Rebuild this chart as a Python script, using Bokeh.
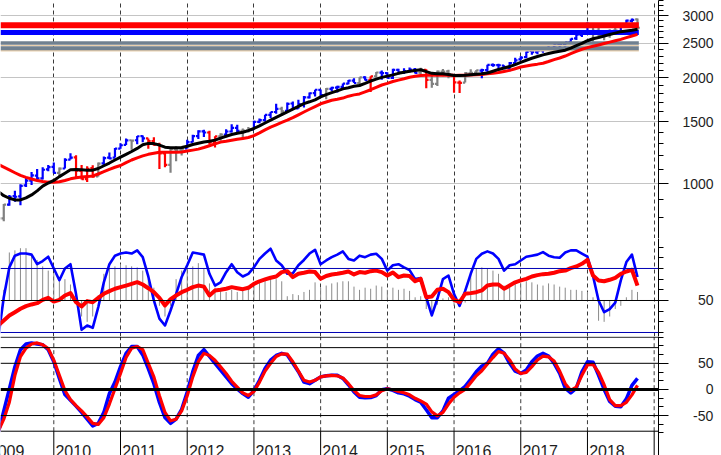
from bokeh.plotting import figure
from bokeh.layouts import column
from bokeh.models import Range1d, FixedTicker, Span, ColumnDataSource
from bokeh.embed import file_html
from bokeh.resources import INLINE
from bokeh.core.properties import value

FONT = "Liberation Sans"

# ---------------- data (monthly, first bar = March 2009) ----------------
first_year, first_month = 2009, 3

bar_open = [730, 798, 873, 923, 921, 990, 1020, 1055, 1036, 1099,
            1117, 1074, 1105, 1171, 1189, 1087, 1031, 1108, 1050, 1143, 1186, 1187,
            1258, 1289, 1329, 1329, 1365, 1345, 1321, 1293, 1219, 1131, 1251, 1247,
            1259, 1312, 1366, 1408, 1398, 1310, 1362, 1379, 1407, 1441, 1412, 1416,
            1426, 1498, 1515, 1569, 1598, 1632, 1610, 1689, 1636, 1682, 1759, 1807,
            1846, 1783, 1858, 1874, 1884, 1924, 1962, 1930, 2004, 1971, 2018, 2066,
            2059, 1997, 2105, 2068, 2087, 2109, 2067, 2104, 1970, 1920, 2081, 2083,
            2038, 1937, 1937, 2057, 2067, 2094, 2099, 2173, 2171, 2164, 2129, 2200,
            2252, 2286, 2380, 2362, 2389, 2416, 2431, 2477, 2474, 2521, 2583, 2645,
            2684, 2816, 2715, 2633, 2643, 2719, 2705, 2821, 2897, 2926]
bar_high = [833, 877, 930, 956, 997, 1039, 1080, 1101, 1114, 1130,
            1150, 1112, 1181, 1220, 1205, 1131, 1121, 1129, 1149, 1196, 1227, 1263,
            1303, 1344, 1332, 1366, 1371, 1345, 1356, 1307, 1229, 1257, 1278, 1269,
            1333, 1378, 1419, 1422, 1415, 1363, 1392, 1427, 1475, 1471, 1434, 1448,
            1510, 1531, 1570, 1598, 1687, 1654, 1699, 1710, 1730, 1775, 1814, 1849,
            1851, 1868, 1884, 1897, 1924, 1968, 1991, 2005, 2019, 2018, 2076, 2094,
            2072, 2120, 2118, 2126, 2135, 2130, 2133, 2113, 2021, 2094, 2116, 2104,
            2038, 1963, 2072, 2111, 2103, 2121, 2177, 2194, 2188, 2170, 2214, 2278,
            2301, 2372, 2401, 2398, 2419, 2454, 2484, 2491, 2519, 2583, 2658, 2695,
            2873, 2836, 2802, 2717, 2742, 2791, 2848, 2917, 2941, 2940]
bar_low = [667, 783, 866, 889, 869, 979, 992, 1020, 1029, 1086,
           1072, 1045, 1105, 1171, 1041, 1028, 1011, 1040, 1048, 1132, 1173, 1187,
           1258, 1289, 1249, 1295, 1312, 1258, 1283, 1102, 1114, 1075, 1159, 1202,
           1259, 1312, 1340, 1357, 1292, 1267, 1325, 1355, 1397, 1403, 1343, 1398,
           1426, 1485, 1501, 1536, 1581, 1560, 1605, 1627, 1633, 1646, 1746, 1768,
           1770, 1738, 1834, 1814, 1860, 1916, 1931, 1905, 1964, 1821, 2001, 1973,
           1988, 1981, 2040, 2048, 2068, 2056, 2044, 1867, 1872, 1894, 2019, 1993,
           1812, 1810, 1937, 2034, 2026, 1992, 2074, 2148, 2119, 2115, 2084, 2187,
           2245, 2272, 2322, 2329, 2353, 2406, 2408, 2417, 2447, 2520, 2557, 2606,
           2682, 2533, 2586, 2554, 2595, 2699, 2699, 2796, 2864, 2720]
bar_close = [798, 873, 919, 919, 987, 1021, 1057, 1036, 1096, 1115,
             1074, 1104, 1169, 1187, 1089, 1031, 1102, 1049, 1141, 1183, 1181, 1258,
             1286, 1327, 1326, 1364, 1345, 1321, 1292, 1219, 1131, 1253, 1247, 1258,
             1312, 1366, 1408, 1398, 1310, 1362, 1379, 1407, 1441, 1412, 1416, 1426,
             1498, 1515, 1569, 1598, 1631, 1606, 1686, 1633, 1682, 1757, 1806, 1848,
             1783, 1859, 1872, 1884, 1924, 1960, 1931, 2003, 1972, 2018, 2068, 2059,
             1995, 2105, 2068, 2086, 2107, 2063, 2104, 1972, 1920, 2079, 2080, 2044,
             1940, 1932, 2060, 2065, 2097, 2099, 2174, 2171, 2168, 2126, 2199, 2239,
             2279, 2364, 2363, 2384, 2412, 2423, 2470, 2472, 2519, 2575, 2648, 2674,
             2824, 2714, 2641, 2648, 2705, 2718, 2816, 2902, 2914, 2770]
# bar trend: b = up (blue), r = down (red), g = neutral (gray)
bar_trend = ("gg" "bbbbbbbbb" "g" "bb" "rrrr" "g" "bbbbb" "g" "bb" "rrrr" "ggg" "bbbb"
             "rr" "g" "bbb" "gg" "bbbbb" "g" "bbbbbbb" "g" "bbbbb" "g" "b" "r" "g"
             "bbbbbbb" "g" "r" "gggg" "rr" "ggg" "bbbbbbbbbbbbbbbbbbbb" "ggggg" "bbb" "g")

ma_fast = [950, 925, 910, 900, 900, 912, 930, 955, 985, 1005,
           1022, 1048, 1072, 1096, 1098, 1096, 1093, 1093, 1105, 1125, 1145, 1168,
           1190, 1212, 1235, 1260, 1290, 1302, 1300, 1288, 1270, 1266, 1265, 1268,
           1278, 1292, 1303, 1314, 1320, 1330, 1348, 1364, 1380, 1391, 1400, 1415,
           1435, 1460, 1487, 1515, 1543, 1570, 1600, 1628, 1658, 1688, 1708, 1730,
           1763, 1790, 1813, 1835, 1858, 1873, 1890, 1900, 1926, 1956, 1980, 2003,
           2020, 2036, 2057, 2072, 2084, 2095, 2105, 2080, 2057, 2051, 2051, 2040,
           2029, 2029, 2030, 2038, 2045, 2051, 2062, 2085, 2110, 2130, 2150, 2178,
           2210, 2240, 2270, 2295, 2320, 2340, 2360, 2375, 2392, 2426, 2463, 2500,
           2545, 2578, 2600, 2625, 2650, 2675, 2700, 2712, 2725, 2741]
ma_slow = [1135, 1115, 1095, 1075, 1056, 1043, 1032, 1022, 1015, 1011,
           1010, 1013, 1022, 1033, 1040, 1045, 1048, 1053, 1066, 1082, 1099, 1114,
           1127, 1148, 1168, 1185, 1200, 1212, 1220, 1228, 1229, 1229, 1229, 1231,
           1238, 1246, 1254, 1267, 1282, 1298, 1313, 1320, 1329, 1337, 1345, 1353,
           1370, 1395, 1422, 1448, 1470, 1493, 1515, 1540, 1569, 1598, 1627, 1656,
           1686, 1706, 1725, 1736, 1750, 1772, 1787, 1798, 1822, 1848, 1878, 1906,
           1927, 1950, 1968, 1985, 2004, 2017, 2029, 2030, 2030, 2030, 2030, 2030,
           2028, 2030, 2032, 2035, 2038, 2042, 2050, 2058, 2068, 2082, 2097, 2120,
           2143, 2158, 2173, 2184, 2197, 2222, 2250, 2273, 2303, 2338, 2373, 2407,
           2432, 2455, 2476, 2499, 2522, 2545, 2568, 2597, 2625, 2653]

# horizontal level bands in the price panel
band_levels = [2814, 2683, 2507, 2421]
band_colors = ["#ff0000", "#0000ff", "#708090", "#708090"]
band_widths = [6, 5, 3.5, 4]
shadow_levels = [2466, 2383]

# middle panel: fast oscillator (blue), RSI-like (red), histogram (gray)
mid_fast = [15, 53, 81, 92, 94, 94, 93, 84, 87, 91,
            80, 69, 80, 84, 56, 22.5, 26.6, 24.4, 43.8, 67, 84, 92,
            94, 95, 94, 97, 90.6, 72.5, 50, 33, 26.6, 40.6, 56, 72,
            83, 95, 94, 93, 75, 64, 67, 76.5, 84, 76.5, 72.5, 75,
            81, 89, 94, 98.5, 87.5, 83, 75, 75.6, 83, 88, 94, 97.5,
            84, 87.5, 90.6, 93, 96, 89, 87.5, 92, 90.6, 93, 93.8, 89,
            78, 83, 84, 81, 78.5, 70, 71, 53, 36, 51.6, 70, 73.4,
            56, 45, 59, 75, 89, 93.8, 96, 94, 89, 78, 83, 84,
            87.5, 91, 92, 93, 95.3, 92, 90.6, 90, 95, 97, 97, 94,
            91, 73, 50, 39, 42, 48, 68.8, 86, 93, 72]
mid_rsi = [26.6, 31.3, 35.9, 39, 42.2, 44.7, 46.3, 47.5, 50.6, 52.5,
           49, 50.6, 54.7, 56.9, 48.4, 44.4, 49.4, 48.4, 52.5, 56.3, 58.8, 61,
           62.5, 64, 65.6, 67.2, 65, 61.5, 57.8, 52.5, 45.3, 51.3, 54.7, 57.8,
           60, 62.5, 64, 63, 54.7, 59.4, 60, 61, 62.5, 61.5, 60.6, 61.9,
           65.6, 68, 69.7, 71.3, 72.5, 76.6, 77.5, 71.9, 75, 76, 77.2, 76.6,
           70.3, 73, 74.4, 75, 76, 77.2, 74.4, 76.6, 76, 77.5, 78, 76.6,
           73.4, 76.3, 71.9, 73.4, 73, 68, 70.3, 53, 53.8, 60, 61, 57.8,
           50.6, 48.4, 56.3, 56.9, 57.8, 59.4, 64, 65, 65, 61, 64, 67,
           68.8, 70.3, 72.5, 73.8, 74.7, 75, 76, 77.5, 78, 80.3, 81.9, 84.4,
           88, 73.4, 68.8, 68, 69.4, 71.3, 75, 77.2, 78.8, 64]
mid_hist = [45, 60, 95, 97, 99, 99, 93, 88, 82, 78,
            75, 72, 70, 65, 48, 35, 30, 35, 55, 75, 80, 82,
            84, 83, 82, 81, 78, 70, 62, 45, 35, 45, 70, 78,
            80, 82, 85, 80, 66, 62, 60, 58, 60, 58, 60, 62,
            65, 67, 69, 72, 70, 68, 54, 56, 55, 58, 60, 67,
            62, 64, 66, 67, 68, 68, 63, 60, 62, 61, 64, 63,
            60, 62, 60, 61, 59, 53, 54, 42, 40, 46, 52, 53,
            45, 46, 48, 75, 80, 81, 80, 78, 75, 64, 65, 67,
            66, 68, 67, 65, 64, 66, 65, 63, 62, 60, 60, 59,
            58, 53, 31, 30, 35, 42, 45, 53, 60, 58]

# bottom panel: cycle oscillator (blue) and its signal (red)
osc_main = [-83, -41, 1, 43.5, 76, 87, 89, 87, 85.6, 76,
            53, 21, -10, -21, -32, -44, -57, -70, -65, -44, -8, 14,
            43.5, 69, 82, 82, 66, 40, 11, -25, -54, -65, -57, -38,
            -5, 34, 65, 76, 63, 50, 37, 24, 11, 1, -8, -15,
            -2, 17.5, 40, 56, 65, 69, 66, 50, 34, 14, 11, 17.5,
            24, 26, 27, 27, 21, 9, -5, -15, -16, -15.6, -11.7, -0.6,
            1.3, -1.9, -6.5, -8.4, -13, -19.5, -24.6, -39, -54, -54, -41, -17,
            -9.7, -2.6, 5.8, 19.5, 33.7, 44.7, 50, 67.5, 77.8, 69.4, 50, 35,
            30.5, 37, 53, 64, 69, 64, 50, 30.5, 2.6, -6.5, 2.6, 33.7,
            53, 52, 27, 0, -23, -32, -33, -18, 7.8, 21]
osc_signal = [-80, -57, -24.6, 27, 63, 79, 87, 89, 85.6, 78,
              56, 27, -2, -19.5, -31, -41, -52.5, -65, -67, -54, -28, 1.3,
              30.5, 61, 79, 82, 76, 50, 24, -12, -44, -60, -57, -41,
              -12, 24, 53, 69, 65, 56, 43.5, 30.5, 15.6, 4.5, -6.5, -11.7,
              -4, 14, 35, 50, 63, 68, 67.5, 53, 35, 17.5, 14, 17.5,
              24, 26, 27, 26, 22, 11, -2, -11.7, -13.6, -13.6, -10.4, -2.6,
              1.3, -0.6, -3.9, -6.5, -10.4, -17, -22, -28, -43, -50.6, -44, -28,
              -15, -6.5, 0, 13, 26, 35.7, 48.6, 61, 72.6, 69.4, 56.4, 39,
              30.5, 32.4, 43.5, 56.4, 63.6, 62.3, 54.5, 35, 11, -2, 4.5, 27,
              46.7, 48, 32.4, 9, -19.5, -31, -31, -24.6, -10.4, 7.8]

year_lines = [2010, 2011, 2012, 2013, 2014, 2015, 2016, 2017, 2018, 2019]
year_labels = ["2009", "2010", "2011", "2012", "2013", "2014", "2015", "2016", "2017", "2018"]
price_ticks = [1000, 1500, 2000, 2500, 3000]
price_minor = [700, 800, 900, 1100, 1200, 1300, 1400, 1600, 1700, 1800, 1900,
               2100, 2200, 2300, 2400, 2600, 2700, 2800, 2900, 3100, 3200, 3300]

# ---------------- derived positions ----------------
n = len(bar_close)
dates = [first_year + (first_month - 1 + i) / 12.0 for i in range(n)]
trend_color = {"b": "#0000ff", "r": "#ff0000", "g": "#808080"}
colors = [trend_color[c] for c in bar_trend[:n]]
tick_w = 0.035  # half-width of open/close ticks in years (~2 px)

x_range = Range1d(2009.2009, 2019.065)
RIGHT = 63
FS = "\u2007"   # figure space (digit-wide) to right-align tick labels
TS = "\u2009"   # thin space


def style_axis(ax, ticks, minor, overrides=None):
    ax.ticker = FixedTicker(ticks=ticks, minor_ticks=minor)
    ax.axis_line_color = "black"
    ax.major_tick_line_color = "black"
    ax.minor_tick_line_color = "black"
    ax.major_tick_out = 10
    ax.major_tick_in = 0
    ax.minor_tick_out = 5
    ax.minor_tick_in = 0
    ax.major_label_standoff = 14
    ax.major_label_text_font = FONT
    ax.major_label_text_font_size = "14px"
    ax.major_label_text_color = "#1e1e1e"
    if overrides:
        ax.major_label_overrides = overrides


def base_fig(height, y_range, y_type="linear"):
    f = figure(width=721, height=height, x_range=x_range, y_range=y_range,
               y_axis_type=y_type, y_axis_location="right", x_axis_location=None,
               toolbar_location=None, output_backend="svg",
               min_border_left=0, min_border_right=RIGHT, min_border_top=0,
               min_border_bottom=0, outline_line_color=None,
               background_fill_color="white", border_fill_color="white")
    f.ygrid.grid_line_color = None
    f.xgrid.ticker = FixedTicker(ticks=year_lines)
    f.xgrid.grid_line_color = "#3a3a3a"
    f.xgrid.grid_line_dash = "4 3"
    f.xgrid.grid_line_width = 1
    return f


# ---------------- price panel ----------------
p1 = base_fig(238, Range1d(699.7, 3309), "log")
p1.ygrid.ticker = FixedTicker(ticks=price_ticks)
p1.ygrid.grid_line_color = "#c4c4c4"
p1.ygrid.grid_line_width = 1
style_axis(p1.yaxis[0], price_ticks, price_minor,
           {t: str(t) for t in price_ticks})

src = ColumnDataSource(dict(
    x=dates, xl=[d - tick_w for d in dates], xr=[d + tick_w for d in dates],
    o=bar_open, h=bar_high, l=bar_low, c=bar_close, col=colors))
p1.segment(x0="x", y0="l", x1="x", y1="h", line_color="col", line_width=2.2, source=src)
p1.segment(x0="xl", y0="o", x1="x", y1="o", line_color="col", line_width=2.2, source=src)
p1.segment(x0="x", y0="c", x1="xr", y1="c", line_color="col", line_width=2.2, source=src)

band_end = dates[-1] + 0.02
for lvl in shadow_levels:
    p1.segment(x0=[x_range.start], x1=[band_end], y0=[lvl], y1=[lvl],
               line_color="#e8cfae", line_width=1.5)
for lvl, col, w in zip(band_levels, band_colors, band_widths):
    p1.segment(x0=[x_range.start], x1=[band_end], y0=[lvl], y1=[lvl],
               line_color=col, line_width=w)

p1.line(dates, ma_slow, line_color="#ff0000", line_width=3, line_join="round")
p1.line(dates, ma_fast, line_color="#000000", line_width=3, line_join="round")

# ---------------- middle panel ----------------
p2 = base_fig(98, Range1d(16.25, 108.1))
style_axis(p2.yaxis[0], [50], [20, 30, 40, 60, 70, 80, 90, 100],
           {50: FS + FS + "50"})
for lvl, col in [(80, "#0000b4"), (20, "#0000b4"), (50, "#000000")]:
    p2.add_layout(Span(location=lvl, dimension="width", line_color=col, line_width=1))
p2.segment(x0=dates, y0=[50] * n, x1=dates, y1=mid_hist, line_color="#8a8a8a", line_width=1)
p2.line(dates, mid_fast, line_color="#0000ff", line_width=2.6, line_join="round")
p2.line(dates, mid_rsi, line_color="#ff0000", line_width=4, line_join="round")

# ---------------- bottom panel (its frame also holds the year row) ----------------
p3 = base_fig(119, Range1d(-126.5, 101.3))
p3.xgrid.grid_line_color = None
third = 50 / 3
style_axis(p3.yaxis[0], [-50, 0, 50],
           [100, 100 - third, 50 + third, 50 - third, third, -third, -50 + third,
            -50 - third, -100 + third],
           {50: FS + FS + "50", 0: FS + FS + FS + "0", -50: FS + TS + "-50"})
for lvl in [100, 80, 50, -50, -80]:
    p3.add_layout(Span(location=lvl, dimension="width", line_color="black", line_width=1))
p3.add_layout(Span(location=0, dimension="width", line_color="black", line_width=3))
# dashed year lines inside the panel, solid year ticks below it
p3.segment(x0=year_lines, x1=year_lines, y0=[-80] * len(year_lines),
           y1=[101.3] * len(year_lines), line_color="#3a3a3a", line_width=1, line_dash="4 3")
p3.segment(x0=year_lines, x1=year_lines, y0=[-80] * len(year_lines),
           y1=[-126.5] * len(year_lines), line_color="black", line_width=1)
p3.line(dates, osc_main, line_color="#0000ff", line_width=3.5, line_join="round")
p3.line(dates, osc_signal, line_color="#ff0000", line_width=3.2, line_join="round")
lab_x = [int(y) + 0.025 for y in year_labels]
p3.text(x=lab_x, y=[-117] * len(year_labels), text=year_labels,
        text_font=value(FONT), text_font_size="16px", text_color="#1e1e1e",
        text_align="left", text_baseline="alphabetic")

layout = column(p1, p2, p3, spacing=0)
with open("out.html", "w") as fh:
    fh.write(file_html(layout, INLINE))
